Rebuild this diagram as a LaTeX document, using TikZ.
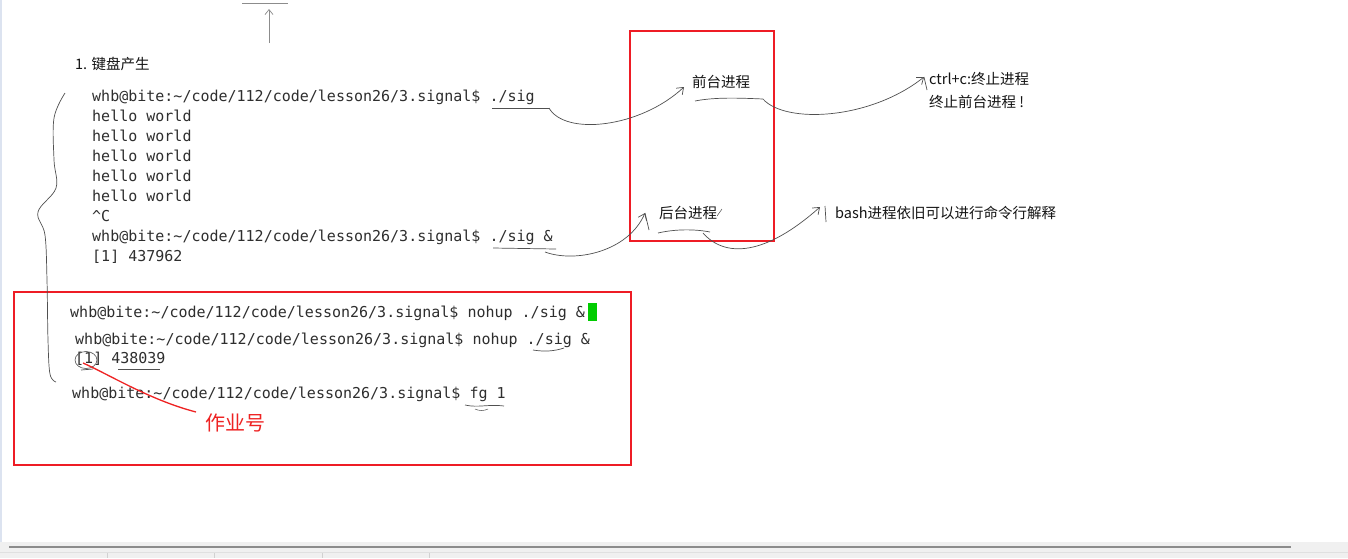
\documentclass[tikz,border=0pt]{standalone}
\usepackage{fontspec}
\setmonofont{DejaVu Sans Mono}
\newfontfamily\cjk{Noto Sans CJK SC}
\usetikzlibrary{arrows.meta,shapes.geometric}
\definecolor{term}{HTML}{2E2E2E}
\definecolor{boxred}{HTML}{EE1C25}
\definecolor{pen}{HTML}{505050}
\definecolor{redpen}{HTML}{EE2222}
\definecolor{barbg}{HTML}{F0F0F0}
\definecolor{edge}{HTML}{DCE3F0}
\newcommand{\prompt}{whb@bite:\textasciitilde/code/112/code/lesson26/3.signal\$}
\tikzset{
  tline/.style={anchor=base west, inner sep=0pt, font=\fontsize{15}{15}\selectfont\ttfamily, text=term},
  zh/.style={anchor=west, inner sep=0pt, font=\fontsize{14.5}{14.5}\selectfont\cjk, text=black!92},
  redbox/.style={draw=boxred, line width=1.8pt},
  ink/.style={draw=pen, line width=0.7pt},
  hand/.style={ink, -{Straight Barb[length=6pt,width=9pt]}},
}
\begin{document}
\begin{tikzpicture}[x=1pt,y=-1pt]
\useasboundingbox (0,0) rectangle (1348,558);
\fill[white] (0,0) rectangle (1348,558);
% window chrome
\draw[edge, line width=2pt] (1,0) -- (1,542);
\fill[barbg] (0,542) rectangle (1348,558);
\draw[draw=black!45, line width=1.2pt] (9,547) -- (1291,547);
\draw[black!12, line width=0.5pt] (0,552.5) -- (1348,552.5);
\foreach \sx in {107,214,322,429} \draw[black!18, line width=0.6pt] (\sx,553) -- (\sx,558);

% top arrow
\coordinate (tbarL) at (242,3);
\coordinate (tbarR) at (288,3);
\coordinate (tarrS) at (269,43);
\coordinate (tarrE) at (269,9);
\draw[draw=black!45, line width=0.7pt] (tbarL) -- (tbarR);
\draw[draw=black!45, line width=0.7pt, -{Straight Barb[length=5pt,width=8pt]}] (tarrS) -- (tarrE);

% heading
\node[zh] (head) at (75,64) {1. 键盘产生};

% terminal block 1
\node[tline] (l1) at (92,101) {\prompt{} ./sig};
\node[tline] (h1) at (92,121) {hello world};
\node[tline] (h2) at (92,141) {hello world};
\node[tline] (h3) at (92,161) {hello world};
\node[tline] (h4) at (92,181) {hello world};
\node[tline] (h5) at (92,201) {hello world};
\node[tline] (cc) at (92,221) {\textasciicircum{}C};
\node[tline] (l2) at (92,241) {\prompt{} ./sig \&};
\node[tline] (j1) at (92,261) {[1] 437962};

% red boxes
\node[redbox, inner sep=0pt, minimum width=144pt, minimum height=210pt, anchor=north west] (box1) at (629,30) {};
\node[redbox, inner sep=0pt, minimum width=617pt, minimum height=173pt, anchor=north west] (box2) at (13,291) {};

% labels
\node[zh] (fg) at (692,82) {前台进程};
\node[zh] (bg) at (659,213) {后台进程};
\node[zh] (ctrl) at (929,79) {ctrl+c:终止进程};
\node[zh] (term) at (929,102) {终止前台进程 !};
\node[zh] (bash) at (835,213) {bash进程依旧可以进行命令行解释};

% brace on left
\draw[ink] plot[smooth, tension=0.6] coordinates {(65,93) (54,118) (54,160) (56,188) (38,212) (45,235) (47,280) (48,340) (50,374) (56,382)};

% underline + arrow: ./sig -> foreground
\coordinate (u1a) at (492,108);
\coordinate (u1b) at (549,108);
\coordinate (fgTip) at (684,87);
\draw[ink] (u1a) -- (u1b);
\draw[hand] (u1b) .. controls (565,136) and (640,128) .. (fgTip);

% underline under 前台进程 + arrow to ctrl+c
\coordinate (u2a) at (695,101);
\coordinate (u2b) at (763,99);
\coordinate (ctTip) at (924,77);
\coordinate (ctTick) at (927,90);
\draw[ink] (u2a) .. controls (715,97) and (740,98) .. (u2b);
\draw[hand] (u2b) .. controls (785,124) and (870,120) .. (ctTip);
\draw[ink] (ctTip) -- (ctTick);

% underline ./sig & -> background
\coordinate (u3a) at (493,248);
\coordinate (u3b) at (556,249);
\coordinate (u3c) at (545,252);
\coordinate (bgTip) at (645,213);
\coordinate (bgTick) at (649,230);
\draw[ink] (u3a) -- (u3b);
\draw[hand] (u3c) .. controls (575,263) and (628,252) .. (bgTip);
\draw[ink] (bgTip) -- (bgTick);

% small mark after 后台进程
\coordinate (mkA) at (717,216);
\coordinate (mkB) at (722,209);
\draw[ink, line width=0.5pt] (mkA) -- (mkB);

% underline under 后台进程 + arrow to bash
\coordinate (u4a) at (658,233);
\coordinate (u4b) at (710,232);
\coordinate (u4c) at (703,233);
\coordinate (bsTip) at (820,207);
\coordinate (bsTickA) at (825,206);
\coordinate (bsTickB) at (826,222);
\draw[ink] (u4a) .. controls (675,229) and (695,229) .. (u4b);
\draw[hand] (u4c) .. controls (725,258) and (765,256) .. (bsTip);
\draw[ink] (bsTickA) -- (bsTickB);

% terminal block 2
\node[tline] (n1) at (70,317) {\prompt{} nohup ./sig \&};
\node[fill=green!80!black, inner sep=0pt, minimum width=9pt, minimum height=18pt, anchor=north west] (cursor) at (588,303) {};
\node[tline] (n2) at (75,344) {\prompt{} nohup ./sig \&};
\node[tline] (j2) at (75,363) {[1] 438039};
\node[tline] (n3) at (72,398) {\prompt{} fg 1};

% annotations block 2
\coordinate (u5a) at (533,350);
\coordinate (u5b) at (564,348);
\draw[ink] (u5a) .. controls (545,352) and (555,351) .. (u5b);
\node[draw=pen, line width=0.6pt, ellipse, inner sep=0pt, minimum width=22pt, minimum height=17pt] (circ) at (86,360) {};
\coordinate (u6a) at (81,370);
\coordinate (u6b) at (93,369);
\draw[ink] (u6a) -- (u6b);
\coordinate (u7a) at (118,369);
\coordinate (u7b) at (160,369);
\draw[ink] (u7a) -- (u7b);
\coordinate (u8a) at (465,405);
\coordinate (u8b) at (504,406);
\draw[ink] (u8a) .. controls (478,408) and (488,404) .. (u8b);
\coordinate (u8c) at (475,409);
\coordinate (u8d) at (488,409);
\draw[ink, line width=0.5pt] (u8c) .. controls (479,411) and (484,411) .. (u8d);

% job number label
\node[anchor=west, inner sep=0pt, font=\fontsize{20}{20}\selectfont\cjk, text=redpen] (job) at (205,423) {作业号};
\coordinate (jobStart) at (83,363);
\coordinate (jobEnd) at (196,412);
\draw[draw=redpen, line width=1.3pt] (jobStart) .. controls (110,375) and (150,400) .. (jobEnd);
\end{tikzpicture}
\end{document}
